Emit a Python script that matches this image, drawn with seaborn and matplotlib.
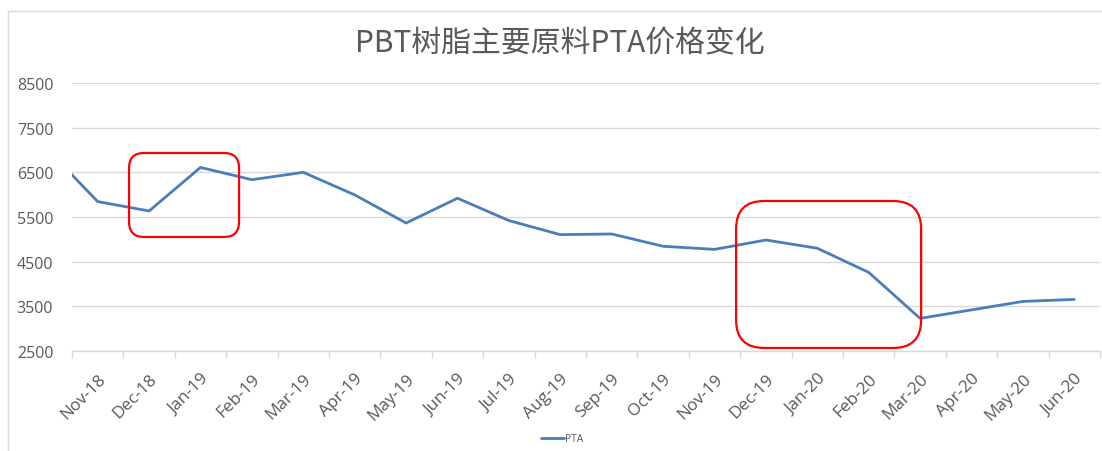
import numpy as np
import pandas as pd
import seaborn as sns
import matplotlib
matplotlib.use("Agg")
import matplotlib.pyplot as plt
from matplotlib.patches import FancyBboxPatch, Rectangle
from matplotlib.transforms import IdentityTransform

# monthly PTA price (first month only feeds the clipped line entering the left edge)
months = ["Oct-18", "Nov-18", "Dec-18", "Jan-19", "Feb-19", "Mar-19", "Apr-19",
          "May-19", "Jun-19", "Jul-19", "Aug-19", "Sep-19", "Oct-19", "Nov-19",
          "Dec-19", "Jan-20", "Feb-20", "Mar-20", "Apr-20", "May-20", "Jun-20"]
prices = [7040, 5845, 5635, 6610, 6335, 6500, 5995, 5365, 5920, 5420, 5105,
          5120, 4845, 4775, 4985, 4800, 4260, 3230, 3420, 3610, 3655]
y_ticks = [2500, 3500, 4500, 5500, 6500, 7500, 8500]

# highlighted periods (x in month index, y in price)
box_x = [(1.61, 3.75), (13.42, 17.02)]
box_y = [(5053, 6933), (2568, 5858)]
box_round = [15, 28]

sns.set_theme(style="white")
plt.rcParams["font.family"] = ["Open Sans", "Noto Sans CJK SC", "DejaVu Sans"]

grey_txt = "#595959"
grid_col = "#D9D9D9"
line_col = "#4A7EBB"

df = pd.DataFrame({"idx": np.arange(len(months)), "price": prices})

fig = plt.figure(figsize=(11.02, 4.52), dpi=100)
ax = fig.add_axes([72 / 1102, 1 - 352 / 452, (1100 - 72) / 1102, (352 - 84) / 452])

sns.lineplot(data=df, x="idx", y="price", ax=ax, color=line_col, linewidth=2.0,
             label="PTA")

ax.set_xlim(0.5, len(months) - 0.5)
ax.set_ylim(2500, 8500)
ax.set_yticks(y_ticks)
ax.yaxis.grid(True, color=grid_col, linewidth=1)
ax.xaxis.grid(False)

ax.set_xticks(np.arange(1, len(months)))
ax.set_xticklabels(months[1:], rotation=45, ha="right", rotation_mode="anchor",
                   fontsize=12.3, color=grey_txt)
ax.set_xticks(np.arange(0.5, len(months)), minor=True)
ax.tick_params(axis="x", which="major", length=0, pad=14)
ax.tick_params(axis="x", which="minor", length=5, width=1, color=grid_col,
               bottom=True)
ax.tick_params(axis="y", length=0, pad=13.5, labelsize=11.5, labelcolor=grey_txt)

ax.set_xlabel("")
ax.set_ylabel("")
for s in ["top", "right", "left"]:
    ax.spines[s].set_visible(False)
ax.spines["bottom"].set_color(grid_col)
ax.spines["bottom"].set_linewidth(1)

ax.get_legend().remove()
handles, labels = ax.get_legend_handles_labels()
fig.legend(handles, labels, loc="center", bbox_to_anchor=(562 / 1102, 1 - 440 / 452),
           frameon=False, fontsize=7.5, handlelength=2.2, handletextpad=0.1,
           labelcolor=grey_txt)

fig.text(560 / 1102, 1 - 44 / 452, "PBT树脂主要原料PTA价格变化", ha="center",
         va="center", fontsize=21.5, color=grey_txt,
         family=["Noto Sans CJK SC", "DejaVu Sans"])

# red rounded highlight boxes, placed in pixel space from data corners
for (x0, x1), (y0, y1), r in zip(box_x, box_y, box_round):
    (px0, py0) = ax.transData.transform((x0, y0))
    (px1, py1) = ax.transData.transform((x1, y1))
    ax_box = FancyBboxPatch((px0, py0), px1 - px0, py1 - py0,
                            boxstyle=f"round,pad=0,rounding_size={r}",
                            fill=False, edgecolor="#FF0000", linewidth=1.6,
                            transform=IdentityTransform(), zorder=5)
    fig.add_artist(ax_box)

# chart area border
fig.add_artist(Rectangle((8 / 1102, -0.1), 1.1, 1 - 12 / 452 + 0.1, fill=False,
                         edgecolor=grid_col, linewidth=1, transform=fig.transFigure))

fig.savefig("out.png", dpi=100)
